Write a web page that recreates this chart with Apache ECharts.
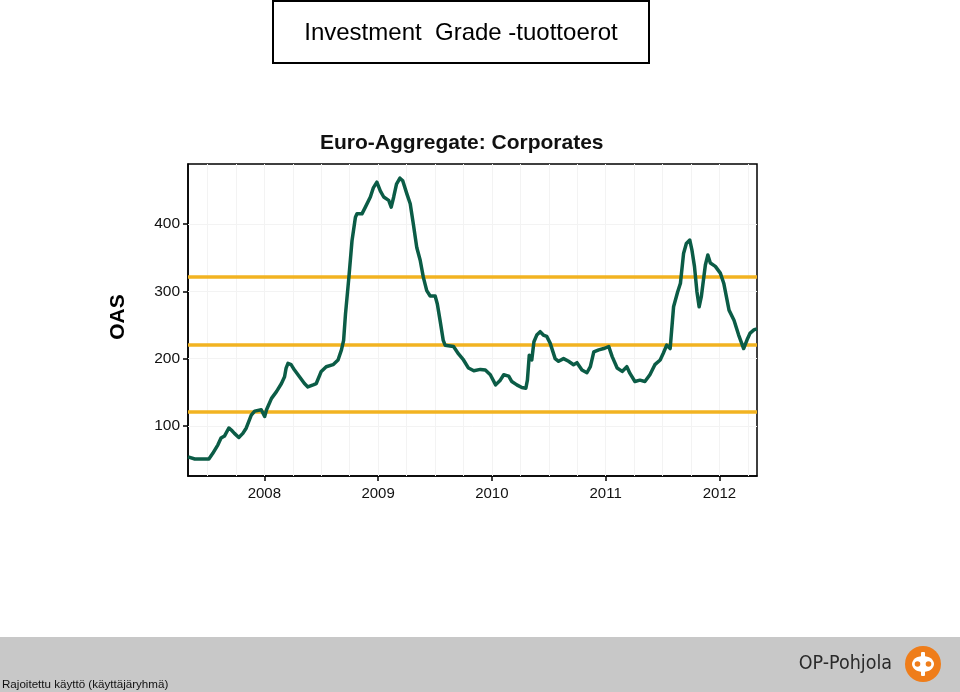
<!DOCTYPE html>
<html>
<head>
<meta charset="utf-8">
<script src="https://cdn.jsdelivr.net/npm/echarts@6/dist/echarts.min.js"></script>
<style>
  html, body { margin: 0; padding: 0; background: #fff; }
  #chart { width: 960px; height: 692px; }
</style>
</head>
<body>
<div id="chart"></div>
<script>
// ---- Data ----
const dates = [
  '2007-05-01','2007-05-07','2007-05-23','2007-07-07','2007-07-19','2007-08-05','2007-08-15','2007-08-26',
  '2007-09-09','2007-09-17','2007-09-27','2007-10-11','2007-10-24','2007-11-04','2007-11-20','2007-12-01',
  '2007-12-22','2008-01-02','2008-01-08','2008-01-24','2008-02-09','2008-02-25','2008-03-06','2008-03-11',
  '2008-03-17','2008-03-27','2008-04-07','2008-04-23','2008-05-09','2008-05-20','2008-06-06','2008-06-16',
  '2008-07-02','2008-07-18','2008-08-09','2008-08-25','2008-09-05','2008-09-12','2008-09-18','2008-09-29',
  '2008-10-09','2008-10-20','2008-10-25','2008-11-10','2008-11-21','2008-12-07','2008-12-17','2008-12-28',
  '2009-01-08','2009-01-19','2009-02-04','2009-02-12','2009-02-20','2009-03-01','2009-03-12','2009-03-21',
  '2009-04-03','2009-04-14','2009-04-24','2009-05-05','2009-05-16','2009-05-26','2009-06-06','2009-06-17',
  '2009-07-03','2009-07-10','2009-07-19','2009-07-29','2009-08-04','2009-08-31','2009-09-16','2009-10-02',
  '2009-10-18','2009-11-04','2009-11-25','2009-12-11','2009-12-27','2010-01-13','2010-01-28','2010-02-08',
  '2010-02-24','2010-03-06','2010-03-22','2010-04-07','2010-04-20','2010-04-25','2010-05-01','2010-05-09',
  '2010-05-16','2010-05-25','2010-06-05','2010-06-15','2010-06-26','2010-07-07','2010-07-23','2010-08-03',
  '2010-08-19','2010-09-04','2010-09-20','2010-10-01','2010-10-17','2010-11-02','2010-11-13','2010-11-24',
  '2010-12-10','2010-12-26','2011-01-11','2011-01-22','2011-02-07','2011-02-23','2011-03-10','2011-03-20',
  '2011-04-05','2011-04-21','2011-05-07','2011-05-23','2011-06-08','2011-06-25','2011-07-05','2011-07-16',
  '2011-07-27','2011-08-07','2011-08-20','2011-08-29','2011-09-08','2011-09-17','2011-09-28','2011-10-05',
  '2011-10-13','2011-10-21','2011-10-28','2011-11-04','2011-11-17','2011-11-25','2011-12-03','2011-12-19',
  '2012-01-04','2012-01-15','2012-02-01','2012-02-17','2012-03-03','2012-03-19','2012-03-30','2012-04-09',
  '2012-04-22','2012-05-01'
];
const oas = [
  54,52,51,51,59,72,82,85,
  97,94,89,83,89,97,116,122,
  124,114,124,141,151,163,173,186,
  193,191,183,173,163,158,161,163,
  181,188,191,198,213,227,266,321,
  375,410,415,415,425,440,454,462,
  449,440,435,425,440,459,468,464,
  445,430,400,365,346,321,301,293,
  293,281,256,227,220,218,207,198,
  186,182,184,183,176,161,168,176,
  174,166,161,157,156,168,205,198,
  225,235,240,235,233,223,200,196,
  200,196,191,194,183,179,188,210,
  213,215,218,203,186,181,188,178,
  166,168,166,176,191,198,208,220,
  215,277,299,312,356,371,376,361,
  337,299,277,292,339,354,342,337,
  327,312,272,257,235,215,228,238,
  243,244
];
const bandLevels = [121, 221, 322];
const yearTicks = [2008, 2009, 2010, 2011, 2012];
const oasTicks = [100, 200, 300, 400];
const xStart = '2007-05-01';
const xEnd = '2012-05-01';
const yMin = 25.7;
const yMax = 489;

// ---- helpers ----
function toYear(s) {
  const d = new Date(s + 'T00:00:00Z');
  const y = d.getUTCFullYear();
  const a = Date.UTC(y, 0, 1), b = Date.UTC(y + 1, 0, 1);
  return y + (d.getTime() - a) / (b - a);
}
const seriesData = dates.map((d, i) => [toYear(d), oas[i]]);
const xMin = toYear(xStart), xMax = toYear(xEnd);

// quarterly faint grid
const quarterLines = [];
for (let y = 2007; y <= 2012; y++) {
  for (let q = 0; q < 4; q++) {
    const v = y + q / 4;
    if (v > xMin + 0.01 && v < xMax - 0.01) quarterLines.push(v);
  }
}
const gridMarks = [];
quarterLines.forEach(v => gridMarks.push({ xAxis: v, lineStyle: { color: '#f3f3f3', width: 1, type: 'solid' } }));
oasTicks.forEach(v => gridMarks.push({ yAxis: v, lineStyle: { color: '#f3f3f3', width: 1, type: 'solid' } }));
const bandMarks = bandLevels.map(v => ({ yAxis: v, lineStyle: { color: '#f2b321', width: 3.5, type: 'solid' } }));

const FONT = '"Liberation Sans", Arial, sans-serif';
const chart = echarts.init(document.getElementById('chart'), null, { renderer: 'canvas' });
chart.setOption({
  animation: false,
  backgroundColor: '#ffffff',
  title: {
    text: 'Euro-Aggregate: Corporates',
    left: 315,
    top: 128,
    textStyle: { fontFamily: FONT, fontSize: 21, fontWeight: 'bold', color: '#111' }
  },
  grid: {
    left: 188, right: 203, top: 164, bottom: 216,
    show: true, borderColor: '#000', borderWidth: 1.5, backgroundColor: 'transparent'
  },
  xAxis: {
    type: 'value',
    min: xMin, max: xMax,
    axisLine: { show: true, lineStyle: { color: '#000', width: 1.5 } },
    axisTick: { show: true, customValues: yearTicks, length: 5, lineStyle: { color: '#000', width: 1.5 } },
    axisLabel: {
      customValues: yearTicks, margin: 10,
      formatter: v => String(Math.round(v)),
      fontFamily: FONT, fontSize: 15, color: '#111'
    },
    splitLine: { show: false }
  },
  yAxis: {
    type: 'value',
    min: yMin, max: yMax,
    axisLine: { show: true, lineStyle: { color: '#000', width: 1.5 } },
    axisTick: { show: true, customValues: oasTicks, length: 5, lineStyle: { color: '#000', width: 1.5 } },
    axisLabel: {
      customValues: oasTicks, margin: 8,
      fontFamily: FONT, fontSize: 15.5, color: '#111'
    },
    splitLine: { show: false }
  },
  series: [
    {
      type: 'line', z: 1, silent: true, data: [],
      markLine: { silent: true, symbol: 'none', label: { show: false }, data: gridMarks, animation: false }
    },
    {
      type: 'line', z: 2, silent: true, data: [],
      markLine: { silent: true, symbol: 'none', label: { show: false }, data: bandMarks, animation: false }
    },
    {
      type: 'line', z: 5, name: 'OAS',
      data: seriesData,
      showSymbol: false, symbol: 'none',
      lineStyle: { color: '#0b5c46', width: 3.5, join: 'round' }
    }
  ],
  graphic: [
    { type: 'rect', shape: { x: 273, y: 1, width: 376, height: 62 },
      style: { fill: '#fff', stroke: '#000', lineWidth: 2 } },
    { type: 'text', x: 461, y: 33,
      style: { text: 'Investment  Grade -tuottoerot', font: '24px "Liberation Sans", Arial, sans-serif',
               fill: '#000', align: 'center', verticalAlign: 'middle' } },
    { type: 'text', x: 118, y: 317, rotation: Math.PI / 2,
      style: { text: 'OAS', font: 'bold 21px "Liberation Sans", Arial, sans-serif',
               fill: '#000', align: 'center', verticalAlign: 'middle' } },
    { type: 'rect', shape: { x: 0, y: 637, width: 960, height: 55 }, style: { fill: '#c8c8c8' } },
    { type: 'text', x: 2, y: 685,
      style: { text: 'Rajoitettu käyttö (käyttäjäryhmä)', font: '11.6px "Liberation Sans", Arial, sans-serif',
               fill: '#111', align: 'left', verticalAlign: 'middle' } },
    { type: 'text', x: 892, y: 664,
      style: { text: 'OP-Pohjola', font: '19.5px "DejaVu Sans Condensed", "Liberation Sans Narrow", "Liberation Sans", sans-serif',
               fill: '#2a2a2a', align: 'right', verticalAlign: 'middle' } },
    { type: 'circle', shape: { cx: 923, cy: 664, r: 18 }, style: { fill: '#ef7d1a' } },
    { type: 'ellipse', shape: { cx: 923, cy: 664, rx: 11, ry: 8 }, style: { fill: '#fff' } },
    { type: 'rect', shape: { x: 921, y: 652, width: 4, height: 24, r: 1 }, style: { fill: '#fff' } },
    { type: 'circle', shape: { cx: 917.5, cy: 664, r: 2.8 }, style: { fill: '#ef7d1a' } },
    { type: 'circle', shape: { cx: 928.5, cy: 664, r: 2.8 }, style: { fill: '#ef7d1a' } }
  ]
});
</script>
</body>
</html>
